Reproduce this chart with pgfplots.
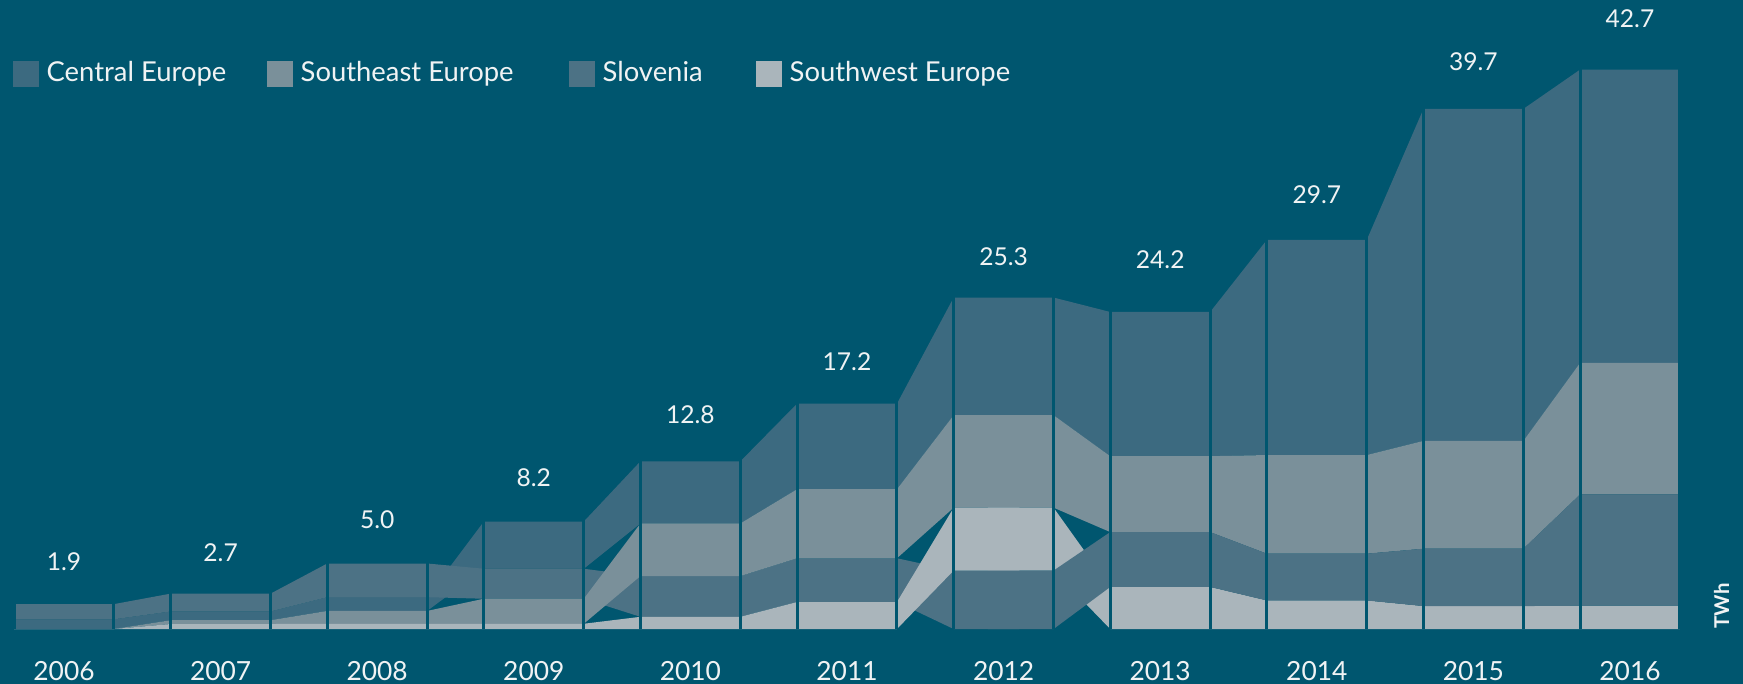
\documentclass[border=0pt]{standalone}
\usepackage{fontspec}
\setmainfont{Lato}
\usepackage{pgfplots}
\pgfplotsset{compat=1.18}
\definecolor{bgc}{HTML}{00566F}
\definecolor{cce}{HTML}{3C6A80}
\definecolor{csl}{HTML}{4C7285}
\definecolor{cse}{HTML}{7A909A}
\definecolor{csw}{HTML}{AAB5BB}
\definecolor{txt}{HTML}{F0F3F4}
\begin{document}
\begin{tikzpicture}
\begin{axis}[
  width=174.3mm, height=68.4mm, scale only axis,
  xmin=2005.5913, xmax=2016.7216, ymin=-4.198, ymax=48.015,
  axis line style={draw=none}, xtick=\empty, ytick=\empty,
  axis background/.style={fill=bgc},
  clip=false,
  legend columns=4,
  legend cell align=left,
  legend image code/.code={\fill[#1] (0mm,-1.3mm) rectangle (2.6mm,1.3mm);},
  legend style={at={(axis cs:2005.6743,42.37)}, anchor=west, draw=none, fill=none,
    inner sep=0pt, outer sep=0pt, text=txt,
    font=\fontsize{7.8pt}{9pt}\selectfont,
    nodes={inner sep=0pt},
    /tikz/every odd column/.style={column sep=0.77mm},
    /tikz/every even column/.style={column sep=0pt}},
]
% Central Europe
\addplot[fill=cce, draw=none, forget plot] coordinates {
(2005.681,0.74)(2006.319,0.74)(2006.681,1.34)(2007.319,1.34)(2007.681,2.43)(2008.319,2.43)(2008.681,8.2)(2009.319,8.2)(2009.681,12.8)(2010.319,12.8)(2010.681,17.2)(2011.319,17.2)(2011.681,25.3)(2012.319,25.3)(2012.681,24.2)(2013.319,24.2)(2013.681,29.7)(2014.319,29.7)(2014.681,39.7)(2015.319,39.7)(2015.681,42.7)(2016.319,42.7)
(2016.319,20.31)(2015.681,20.31)(2015.319,14.36)(2014.681,14.36)(2014.319,13.28)(2013.681,13.28)(2013.319,13.19)(2012.681,13.19)(2012.319,16.32)(2011.681,16.32)(2011.319,10.67)(2010.681,10.67)(2010.319,8.06)(2009.681,8.06)(2009.319,4.6)(2008.681,4.6)(2008.319,1.38)(2007.681,1.38)(2007.319,0.67)(2006.681,0.67)(2006.319,0)(2005.681,0)
} --cycle;
% Slovenia part 1 (2006 to mid 2012)
\addplot[fill=csl, draw=none, forget plot] coordinates {
(2005.681,1.9)(2006.319,1.9)(2006.681,2.7)(2007.319,2.7)(2007.681,5.0)(2008.319,5.0)(2008.681,4.6)(2009.319,4.6)(2009.681,4.04)(2010.319,4.04)(2010.681,5.4)(2011.319,5.4)(2011.681,4.46)(2012.1,4.46)
(2012.1,0)(2011.681,0)(2011.319,2.06)(2010.681,2.06)(2010.319,0.93)(2009.681,0.93)(2009.319,2.31)(2008.681,2.31)(2008.319,2.43)(2007.681,2.43)(2007.319,1.34)(2006.681,1.34)(2006.319,0.74)(2005.681,0.74)
} --cycle;
% Southeast Europe
\addplot[fill=cse, draw=none, forget plot] coordinates {
(2005.681,0)(2006.319,0)(2006.681,0.67)(2007.319,0.67)(2007.681,1.38)(2008.319,1.38)(2008.681,2.31)(2009.319,2.31)(2009.681,8.06)(2010.319,8.06)(2010.681,10.67)(2011.319,10.67)(2011.681,16.32)(2012.319,16.32)(2012.681,13.19)(2013.319,13.19)(2013.681,13.28)(2014.319,13.28)(2014.681,14.36)(2015.319,14.36)(2015.681,20.31)(2016.319,20.31)
(2016.319,10.27)(2015.681,10.27)(2015.319,6.13)(2014.681,6.13)(2014.319,5.75)(2013.681,5.75)(2013.319,7.4)(2012.681,7.4)(2012.319,9.26)(2011.681,9.26)(2011.319,5.4)(2010.681,5.4)(2010.319,4.04)(2009.681,4.04)(2009.319,0.4)(2008.681,0.4)(2008.319,0.4)(2007.681,0.4)(2007.319,0.38)(2006.681,0.38)(2006.319,0)(2005.681,0)
} --cycle;
% Southwest Europe part 1 (2006 to mid 2012)
\addplot[fill=csw, draw=none, forget plot] coordinates {
(2005.681,0)(2006.319,0)(2006.681,0.38)(2007.319,0.38)(2007.681,0.4)(2008.319,0.4)(2008.681,0.4)(2009.319,0.4)(2009.681,0.93)(2010.319,0.93)(2010.681,2.06)(2011.319,2.06)(2011.681,9.26)(2012.1,9.26)
(2012.1,4.46)(2011.681,4.46)(2011.319,0)(2005.681,0)
} --cycle;
% Southwest Europe part 2 (mid 2012 to 2016)
\addplot[fill=csw, draw=none, forget plot] coordinates {
(2011.9,9.26)(2012.319,9.26)(2012.681,3.21)(2013.319,3.21)(2013.681,2.18)(2014.319,2.18)(2014.681,1.75)(2015.319,1.75)(2015.681,1.78)(2016.319,1.78)
(2016.319,0)(2012.681,0)(2012.319,4.46)(2011.9,4.46)
} --cycle;
% Slovenia part 2 (mid 2012 to 2016)
\addplot[fill=csl, draw=none, forget plot] coordinates {
(2011.9,4.46)(2012.319,4.46)(2012.681,7.4)(2013.319,7.4)(2013.681,5.75)(2014.319,5.75)(2014.681,6.13)(2015.319,6.13)(2015.681,10.27)(2016.319,10.27)
(2016.319,1.78)(2015.681,1.78)(2015.319,1.75)(2014.681,1.75)(2014.319,2.18)(2013.681,2.18)(2013.319,3.21)(2012.681,3.21)(2012.319,0)(2011.9,0)
} --cycle;
% separating gaps
\addplot[ycomb, draw=bgc, line width=0.85pt, mark=none, forget plot] coordinates {
(2005.681,44)(2006.319,44)(2006.681,44)(2007.319,44)(2007.681,44)(2008.319,44)(2008.681,44)(2009.319,44)(2009.681,44)(2010.319,44)(2010.681,44)(2011.319,44)(2011.681,44)(2012.319,44)(2012.681,44)(2013.319,44)(2013.681,44)(2014.319,44)(2014.681,44)(2015.319,44)(2015.681,44)(2016.319,44)
};
% totals
\addplot[draw=none, mark=none, forget plot, point meta=explicit symbolic, nodes near coords,
  nodes near coords style={anchor=center, text=txt, inner sep=0pt, font=\fontsize{7pt}{8pt}\selectfont}]
coordinates {(2006,5.11)[1.9] (2007,5.85)[2.7] (2008,8.32)[5.0] (2009,11.53)[8.2] (2010,16.34)[12.8] (2011,20.44)[17.2] (2012,28.42)[25.3] (2013,28.17)[24.2] (2014,33.13)[29.7] (2015,43.31)[39.7] (2016,46.62)[42.7]};
% years
\addplot[draw=none, mark=none, forget plot, point meta=explicit symbolic, nodes near coords,
  nodes near coords style={anchor=center, text=txt, inner sep=0pt, font=\fontsize{7.5pt}{9pt}\selectfont}]
coordinates {(2006,-3.21)[2006] (2007,-3.21)[2007] (2008,-3.21)[2008] (2009,-3.21)[2009] (2010,-3.21)[2010] (2011,-3.21)[2011] (2012,-3.21)[2012] (2013,-3.21)[2013] (2014,-3.21)[2014] (2015,-3.21)[2015] (2016,-3.21)[2016]};
\addlegendimage{fill=cce, draw=none}
\addlegendentry{\makebox[22.03mm][l]{Central Europe}}
\addlegendimage{fill=cse, draw=none}
\addlegendentry{\makebox[26.83mm][l]{Southeast Europe}}
\addlegendimage{fill=csl, draw=none}
\addlegendentry{\makebox[15.33mm][l]{Slovenia}}
\addlegendimage{fill=csw, draw=none}
\addlegendentry{Southwest Europe}
\node[rotate=90, anchor=west, inner sep=0pt, text=txt, font=\fontsize{5.8pt}{7pt}\selectfont\bfseries] at (axis cs:2016.584,0) {TWh};
\end{axis}
\end{tikzpicture}
\end{document}
